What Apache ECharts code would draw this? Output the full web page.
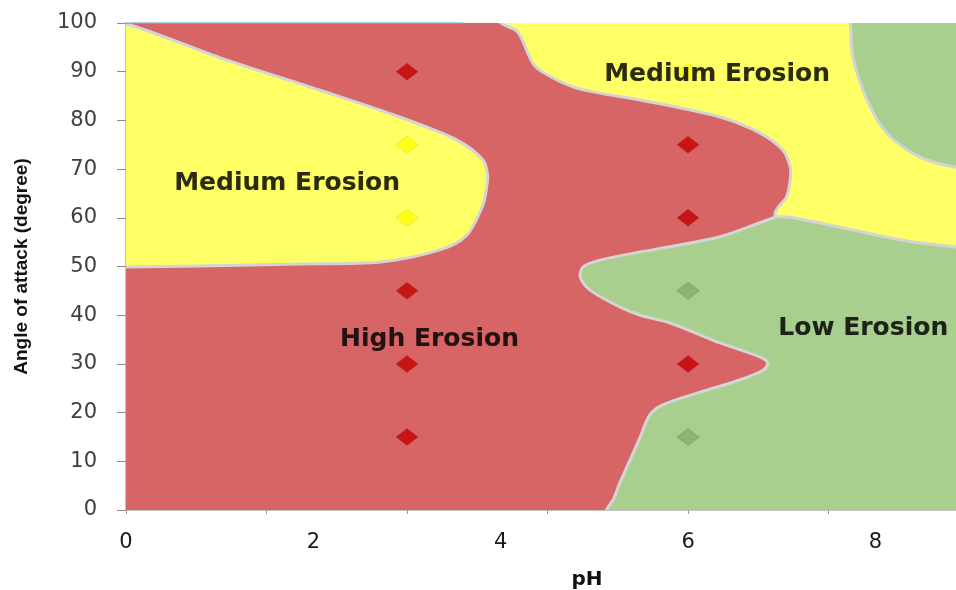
<!DOCTYPE html>
<html>
<head>
<meta charset="utf-8">
<style>
html,body{margin:0;padding:0;background:#fff;}
#chart{width:956px;height:590px;}
</style>
<script src="https://cdn.jsdelivr.net/npm/echarts@6/dist/echarts.min.js"></script>
</head>
<body>
<div id="chart"></div>
<script>
// ---- axis settings ----
const X_MAX = 8.86;
const xTickValues = [0, 1.5, 3, 4.5, 6, 7.5];
const xLabelValues = [0, 2, 4, 6, 8];
const yMin = 0, yMax = 100, yStep = 10;

// ---- region boundaries (pH, angle) ----
const redBase = [[-1, -5], [10, -5], [10, 105], [-1, 105]];
const yellowLeft = [[-1, 49.9], [0, 49.9], [0.79, 50.1], [1.86, 50.5], [2.71, 50.9], [3.35, 53.4], [3.64, 56.5],
  [3.81, 62.6], [3.85, 66.3], [3.86, 68.8], [3.81, 71.9], [3.53, 76.0], [2.92, 80.7], [2.07, 86.2], [1.0, 92.9],
  [0.04, 99.6], [-1, 104]];
const yellowRight = [[3.92, 104], [3.99, 100.2], [4.18, 98.2], [4.34, 91.8], [4.45, 89.9], [4.77, 86.9], [5.06, 85.6],
  [5.49, 84.2], [6.34, 80.7], [6.77, 77.4], [7.01, 73.9], [7.09, 70.4], [7.09, 67.8], [7.05, 64.3], [6.93, 61.0],
  [7.0, 57], [8.0, 53], [9.6, 50], [9.6, 104]];
const greenTopRight = [[7.7, 104], [7.73, 100], [7.76, 93.0], [7.91, 84.2], [8.12, 77.4], [8.47, 72.5], [8.86, 70.4],
  [9.6, 69], [9.6, 104]];
const greenBottom = [[6.95, 60.2], [7.12, 60.0], [7.76, 57.5], [8.29, 55.4], [8.86, 54.0], [9.6, 52.5], [9.6, -5],
  [5.05, -5], [5.14, 0.4], [5.2, 2.1], [5.27, 5.5], [5.49, 15.0], [5.59, 19.5], [5.73, 21.6], [6.13, 24.2],
  [6.55, 26.7], [6.80, 28.7], [6.85, 30.2], [6.77, 31.4], [6.34, 34.3], [5.81, 38.4], [5.49, 40.0], [5.27, 41.7],
  [4.95, 45.2], [4.85, 47.8], [4.88, 49.9], [5.06, 51.3], [5.49, 53.0], [5.62, 53.4], [6.34, 56.1], [6.84, 59.5]];

// ---- measured points ----
const highPoints = [[3, 90], [3, 45], [3, 30], [3, 15], [6, 75], [6, 60], [6, 30]];
const mediumPoints = [[3, 75], [3, 60], [6, 90]];
const lowPoints = [[6, 45], [6, 15]];

// ---- region labels ----
const regionLabels = [
  { name: 'Medium Erosion', value: [1.72, 67.1] },
  { name: 'Medium Erosion', value: [6.31, 89.5] },
  { name: 'High Erosion', value: [3.24, 35.0] },
  { name: 'Low Erosion', value: [7.87, 37.2] }
];

const topLine = [[0, 100], [3.6, 100]];

const COLORS = { red: '#d86565', yellow: '#ffff66', green: '#a9cf8e' };

function region(name, pts, color, stroke) {
  return {
    type: 'custom', name: name, coordinateSystem: 'cartesian2d', clip: true, silent: true,
    data: [[0, 0]],
    renderItem: function (params, api) {
      return {
        type: 'polygon',
        shape: { points: pts.map(function (p) { return api.coord(p); }), smooth: 0.3 },
        style: { fill: color, stroke: stroke ? '#d4d4d4' : null, lineWidth: stroke ? 3 : 0 }
      };
    }
  };
}

const chart = echarts.init(document.getElementById('chart'), null, { renderer: 'canvas' });
chart.setOption({
  animation: false,
  backgroundColor: '#ffffff',
  grid: { left: 126, right: 0, top: 23, bottom: 80, containLabel: false, outerBoundsMode: 'none' },
  xAxis: {
    type: 'value', min: 0, max: X_MAX,
    name: 'pH', nameLocation: 'middle', nameGap: 60,
    nameTextStyle: { fontFamily: 'DejaVu Sans', fontWeight: 'bold', fontSize: 20, color: '#111', padding: [0, 0, 0, 92] },
    axisLine: { show: true, lineStyle: { color: '#c4c4c4', width: 2 } },
    axisTick: { show: true, customValues: xTickValues, length: 4, inside: false, lineStyle: { color: '#999', width: 1 } },
    axisLabel: { show: true, customValues: xLabelValues, margin: 22, fontFamily: 'DejaVu Sans', fontSize: 21, color: '#1a1a1a' },
    splitLine: { show: false }
  },
  yAxis: {
    type: 'value', min: yMin, max: yMax, interval: yStep,
    name: 'Angle of attack (degree)', nameLocation: 'middle', nameGap: 95, nameRotate: 90,
    nameTextStyle: { fontFamily: 'Liberation Sans', fontWeight: 'bold', fontSize: 19, color: '#111' },
    axisLine: { show: true, lineStyle: { color: '#c4c4c4', width: 2 } },
    axisTick: { show: true, length: 9, lineStyle: { color: '#8c8c8c', width: 1 } },
    axisLabel: { margin: 29, fontFamily: 'DejaVu Sans', fontSize: 21, color: '#404040' },
    splitLine: { show: false }
  },
  series: [
    region('High Erosion area', redBase, COLORS.red, false),
    region('Medium Erosion left', yellowLeft, COLORS.yellow, true),
    region('Medium Erosion right', yellowRight, COLORS.yellow, true),
    region('Low Erosion top', greenTopRight, COLORS.green, true),
    region('Low Erosion bottom', greenBottom, COLORS.green, true),
    {
      type: 'line', data: topLine, symbol: 'none', silent: true,
      lineStyle: { color: '#7ea7d8', width: 1.5 }
    },
    {
      type: 'scatter', name: 'High', data: highPoints, symbol: 'diamond', symbolSize: [22, 17],
      itemStyle: { color: '#c40000', borderColor: '#a83030', borderWidth: 0.5 }
    },
    {
      type: 'scatter', name: 'Medium', data: mediumPoints, symbol: 'diamond', symbolSize: [22, 17],
      itemStyle: { color: '#ffff00', borderColor: '#e6e64a', borderWidth: 1 }
    },
    {
      type: 'scatter', name: 'Low', data: lowPoints, symbol: 'diamond', symbolSize: [22, 17],
      itemStyle: { color: '#84ad6e', borderColor: '#7fa86b', borderWidth: 1 }
    },
    {
      type: 'scatter', name: 'labels', data: regionLabels, symbolSize: 1, silent: true,
      itemStyle: { color: 'rgba(0,0,0,0)' },
      label: {
        show: true, position: 'inside', formatter: '{b}',
        fontFamily: 'DejaVu Sans', fontWeight: 'bold', fontSize: 25, color: '#000000',
        textShadowColor: 'rgba(0,0,0,0.2)', textShadowBlur: 1
      }
    }
  ]
});
</script>
</body>
</html>
